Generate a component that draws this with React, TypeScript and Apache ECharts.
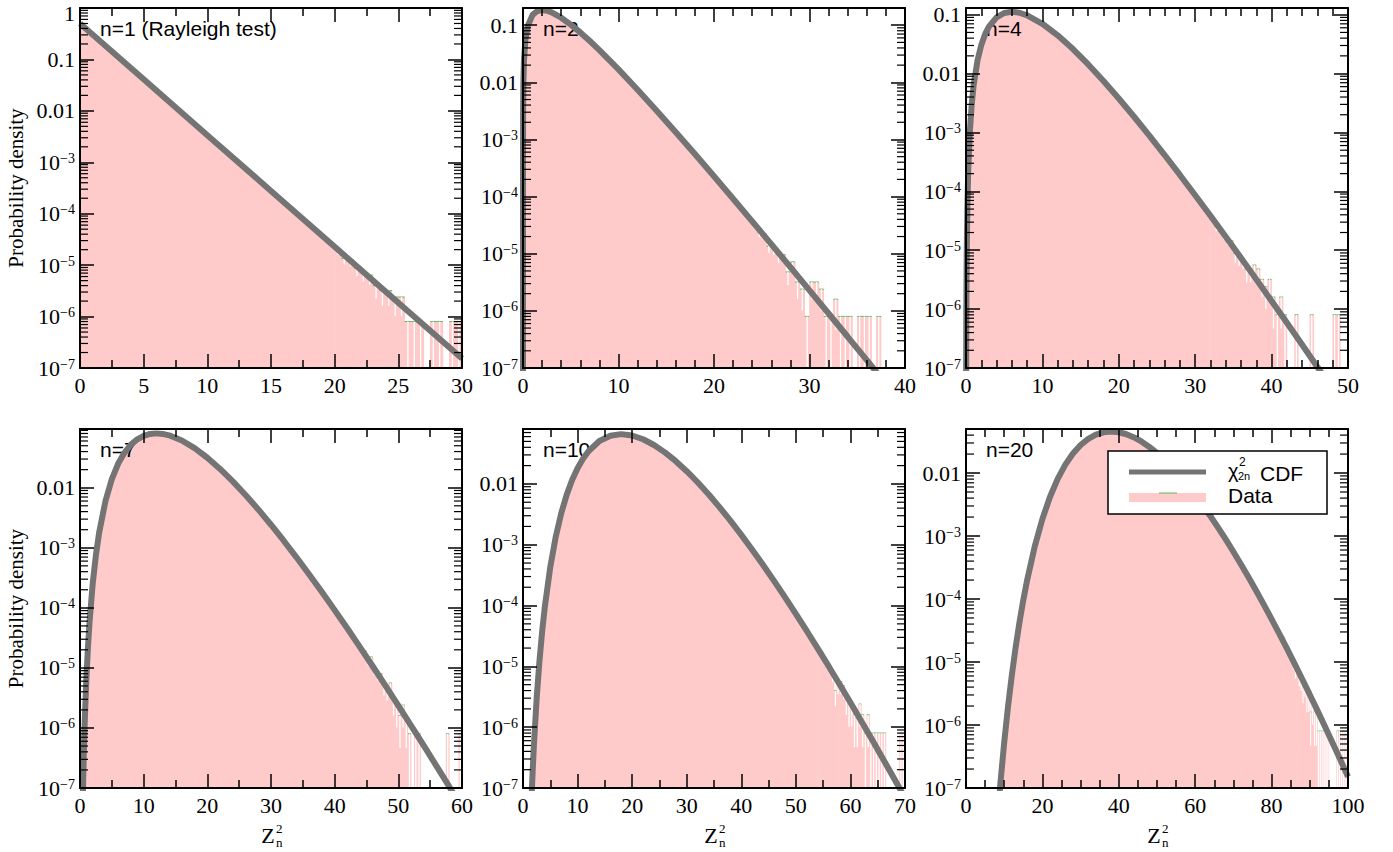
import { useEffect, useRef } from 'react';
import * as echarts from 'echarts';

const SERIF = '"Liberation Serif", "Times New Roman", Times, serif';
const SANS = '"Liberation Sans", Arial, Helvetica, sans-serif';
const PINK = '#ffcaca';
const CURVE = '#747474';
const GREEN = '#5cb85c';

// ---------- panel settings ----------
const panelLabels = ['n=1 (Rayleigh test)', 'n=2', 'n=4', 'n=7', 'n=10', 'n=20'];
const xMaxes = [30, 40, 50, 60, 70, 100];
const xSteps = [5, 10, 10, 10, 10, 20];
const xMinorSplits = [2, 5, 5, 2, 2, 4];
const yMaxes = [1, 0.2, 0.13, 0.095, 0.08, 0.05];
const Y_MIN = 1e-7;

// ---------- chi-square (2n dof) curves: [Z^2, density] ----------
const curveN1 = [[0, 0.5], [5, 0.04104], [10, 3.369e-3], [15, 2.765e-4], [20, 2.27e-5], [25, 1.863e-6], [30, 1.53e-7]];
const curveN2 = [[0, 1e-9], [0.001, 2.5e-4], [0.01, 2.49e-3], [0.04, 9.8e-3], [0.1, 0.02378], [0.25, 0.05516], [0.5, 0.09735], [1, 0.1516], [1.5, 0.1771], [2, 0.1839], [2.5, 0.1791], [3, 0.1673], [4, 0.1353], [5, 0.1026], [6, 0.0747], [7, 0.05285], [8, 0.0366], [10, 0.01684], [12, 7.436e-3], [14, 3.19e-3], [16, 1.342e-3], [18, 5.55e-4], [20, 2.27e-4], [22, 9.19e-5], [24, 3.69e-5], [26, 1.47e-5], [28, 5.82e-6], [30, 2.29e-6], [32, 9.0e-7], [34, 3.52e-7], [36, 1.37e-7], [38, 5.3e-8]];
const curveN4 = [[0.02, 8.2e-8], [0.05, 1.27e-6], [0.1, 9.9e-6], [0.2, 7.5e-5], [0.3, 2.42e-4], [0.5, 1.01e-3], [0.75, 3.02e-3], [1, 6.32e-3], [1.5, 0.0166], [2, 0.0307], [2.5, 0.04663], [3, 0.0628], [4, 0.0902], [5, 0.1069], [6, 0.112], [7, 0.1079], [8, 0.0977], [10, 0.0702], [12, 0.0446], [14, 0.0261], [16, 0.0143], [18, 7.5e-3], [20, 3.78e-3], [22, 1.85e-3], [24, 8.85e-4], [26, 4.14e-4], [28, 1.9e-4], [30, 8.6e-5], [32, 3.84e-5], [34, 1.7e-5], [36, 7.4e-6], [38, 3.2e-6], [40, 1.37e-6], [42, 5.85e-7], [44, 2.48e-7], [46, 1.04e-7], [48, 4.35e-8]];
const curveN7 = [[0.4, 3.64e-8], [0.5, 1.32e-7], [0.6, 3.75e-7], [0.75, 1.327e-6], [1, 6.58e-6], [1.25, 2.216e-5], [1.5, 5.84e-5], [2, 2.555e-4], [2.5, 7.59e-4], [3, 1.765e-3], [4, 6.01e-3], [5, 0.01392], [6, 0.02521], [7, 0.03855], [8, 0.05211], [9, 0.06407], [10, 0.07311], [11, 0.07856], [12, 0.0803], [13, 0.07872], [14, 0.0745], [16, 0.06108], [18, 0.04554], [20, 0.03153], [22, 0.02055], [24, 0.01274], [26, 7.575e-3], [28, 4.348e-3], [30, 2.42e-3], [32, 1.311e-3], [34, 6.94e-4], [36, 3.597e-4], [38, 1.83e-4], [40, 9.16e-5], [42, 4.52e-5], [44, 2.196e-5], [46, 1.055e-5], [48, 5.01e-6], [50, 2.355e-6], [52, 1.096e-6], [54, 5.06e-7], [56, 2.314e-7], [58, 1.051e-7], [60, 4.74e-8]];
const curveN10 = [[1.5, 4.9e-8], [1.75, 1.73e-7], [2, 5.07e-7], [2.5, 2.94e-6], [3, 1.18e-5], [3.5, 3.68e-5], [4, 9.54e-5], [5, 4.31e-4], [6, 1.35e-3], [7, 3.28e-3], [8, 6.61e-3], [9, 0.01158], [10, 0.01813], [11, 0.02593], [12, 0.03441], [14, 0.0507], [16, 0.062], [18, 0.0659], [20, 0.0625], [22, 0.0543], [24, 0.0437], [26, 0.033], [28, 0.02366], [30, 0.0162], [32, 0.01066], [34, 6.76e-3], [36, 4.16e-3], [38, 2.49e-3], [40, 1.454e-3], [42, 8.3e-4], [44, 4.64e-4], [46, 2.545e-4], [48, 1.373e-4], [50, 7.3e-5], [52, 3.82e-5], [54, 1.974e-5], [56, 1.007e-5], [58, 5.08e-6], [60, 2.54e-6], [62, 1.253e-6], [64, 6.14e-7], [66, 2.98e-7], [68, 1.433e-7], [70, 6.85e-8]];
const curveN20 = [[8, 2.07e-8], [9, 1.176e-7], [10, 5.28e-7], [11, 1.96e-6], [12, 6.21e-6], [13, 1.72e-5], [14, 4.27e-5], [15, 9.61e-5], [16, 1.987e-4], [18, 6.85e-4], [20, 1.866e-3], [22, 4.2e-3], [24, 8.07e-3], [26, 0.01358], [28, 0.02042], [30, 0.02787], [32, 0.03495], [34, 0.04069], [36, 0.04431], [38, 0.04553], [40, 0.0444], [42, 0.04128], [44, 0.03675], [46, 0.03147], [48, 0.02599], [50, 0.02076], [52, 0.01609], [54, 0.01213], [56, 8.9e-3], [58, 6.38e-3], [60, 4.47e-3], [62, 3.064e-3], [64, 2.061e-3], [66, 1.36e-3], [68, 8.83e-4], [70, 5.63e-4], [72, 3.54e-4], [74, 2.19e-4], [76, 1.338e-4], [78, 8.06e-5], [80, 4.8e-5], [82, 2.82e-5], [84, 1.64e-5], [86, 9.44e-6], [88, 5.37e-6], [90, 3.03e-6], [92, 1.693e-6], [94, 9.37e-7], [96, 5.14e-7], [98, 2.8e-7], [100, 1.51e-7]];

// ---------- data histogram tails: counts per 0.5-wide bin, starting at tailStart ----------
const tailStarts = [20, 24, 32, 44, 54, 82];
const BIN = 0.5;
const UNIT = 8e-7; // density of one count
const tailN1 = [25, 17, 16, 11, 9, 8, 5, 4, 4, 3, 3, 1, 1, 1, 0, 1, 1, 0, 1, 1];
const tailN2 = [40, 30, 28, 17, 16, 12, 12, 6, 9, 4, 3, 1, 4, 4, 3, 1, 1, 2, 1, 1, 1, 0, 1, 1, 1, 0, 1, 0, 0, 0, 0, 0];
const tailN4 = [45, 32, 30, 24, 20, 18, 11, 10, 9, 6, 6, 7, 6, 4, 3, 4, 2, 1, 2, 1, 0, 0, 1, 0, 0, 0, 1, 0, 0, 0, 0, 0, 1, 1, 0, 0];
const tailN7 = [26, 24, 18, 19, 13, 11, 10, 7, 6, 7, 4, 3, 2, 3, 2, 1, 0, 1, 1, 0, 0, 0, 0, 0, 0, 0, 0, 1, 0, 0, 0, 1];
const tailN10 = [24, 22, 17, 15, 13, 10, 5, 7, 7, 6, 4, 3, 3, 2, 2, 3, 2, 1, 2, 1, 1, 1, 1, 1, 1, 0, 0, 0, 0, 0, 1, 0];
const tailN20 = [34, 30, 31, 24, 20, 19, 16, 13, 10, 11, 8, 7, 5, 6, 4, 4, 2, 3, 2, 2, 1, 1, 1, 1, 0, 1, 0, 0, 0, 0, 1, 1, 0, 1, 0, 1];

const curves = [curveN1, curveN2, curveN4, curveN7, curveN10, curveN20];
const tails = [tailN1, tailN2, tailN4, tailN7, tailN10, tailN20];

// ---------- layout ----------
const colLeft = [80, 523, 966];
const rowTop = [8, 429];
const rowH = [360, 359];
const PW = 382;

const yFmt = (v: number) => {
  const l = Math.log10(v);
  const e = Math.round(l);
  if (Math.abs(l - e) > 1e-6) return '';
  if (e === 0) return '{t|1}';
  if (e === -1) return '0.1';
  if (e === -2) return '0.01';
  return `{b|10}{s|\u2212${-e}}`;
};

function buildOption() {
  const grid: any[] = [];
  const xAxis: any[] = [];
  const yAxis: any[] = [];
  const series: any[] = [];
  const elements: any[] = [];

  const axisLine = { show: true, onZero: false, lineStyle: { color: '#000', width: 2 } };
  const tickStyle = { color: '#000', width: 1.5 };

  for (let i = 0; i < 6; i++) {
    const col = i % 3;
    const row = Math.floor(i / 3);
    const left = colLeft[col];
    const top = rowTop[row];
    const height = rowH[row];
    grid.push({ left, top, width: PW, height, containLabel: false, outerBoundsMode: 'none' });

    const xCommon = {
      type: 'value', gridIndex: i, min: 0, max: xMaxes[i], interval: xSteps[i], z: 5,
      axisLine,
      axisTick: { show: true, inside: true, length: 14, lineStyle: tickStyle },
      minorTick: { show: true, splitNumber: xMinorSplits[i], length: 8, lineStyle: tickStyle },
      splitLine: { show: false },
      minorSplitLine: { show: false },
    };
    xAxis.push({ ...xCommon, position: 'bottom', axisLabel: { show: true, margin: 6, color: '#000', fontFamily: SERIF, fontSize: 22 } });
    xAxis.push({ ...xCommon, position: 'top', axisLabel: { show: false } });

    const yCommon = {
      type: 'log', logBase: 10, gridIndex: i, min: Y_MIN, max: yMaxes[i], z: 5,
      axisLine,
      axisTick: { show: true, inside: true, length: 14, lineStyle: tickStyle },
      minorTick: { show: false },
      splitLine: { show: false },
      minorSplitLine: { show: false },
    };
    yAxis.push({
      ...yCommon, position: 'left',
      axisLabel: {
        show: true, margin: 5, color: '#000', fontFamily: SERIF, fontSize: 22, lineHeight: 16,
        formatter: yFmt,
        rich: {
          b: { fontSize: 22, fontFamily: SERIF, color: '#000', lineHeight: 22 },
          s: { fontSize: 14, fontFamily: SERIF, color: '#000', lineHeight: 12, verticalAlign: 'top' },
          t: { fontSize: 22, fontFamily: SERIF, color: '#000', lineHeight: 16, padding: [10, 0, 0, 0] },
        },
      },
    });
    yAxis.push({ ...yCommon, position: 'right', axisLabel: { show: false } });

    const xi = 2 * i;
    const yi = 2 * i;
    const curve = curves[i];
    const ts = tailStarts[i];

    // data histogram: smooth body
    series.push({
      type: 'line', xAxisIndex: xi, yAxisIndex: yi, data: curve.filter((p) => p[0] <= ts),
      symbol: 'none', showSymbol: false, silent: true, z: 1,
      lineStyle: { width: 0, color: PINK },
      areaStyle: { color: PINK, opacity: 1, origin: 'start' },
    });

    // data histogram: tail bins with error bars
    const binData = tails[i]
      .map((k, j) => [ts + (j + 0.5) * BIN, k * UNIT, (k - Math.sqrt(k)) * UNIT, k])
      .filter((d) => d[3] > 0);
    series.push({
      type: 'custom', xAxisIndex: xi, yAxisIndex: yi, data: binData, silent: true, z: 1, clip: true,
      renderItem: (params: any, api: any) => {
        const c = api.value(0);
        const d = api.value(1);
        const lo = api.value(2);
        const tl = api.coord([c - BIN / 2, d]);
        const br = api.coord([c + BIN / 2, Y_MIN]);
        const low = api.coord([c, lo > Y_MIN ? lo : Y_MIN]);
        const cx = (tl[0] + br[0]) / 2;
        return {
          type: 'group',
          children: [
            { type: 'rect', shape: { x: tl[0] - 0.3, y: tl[1], width: br[0] - tl[0] + 0.6, height: br[1] - tl[1] }, style: { fill: PINK } },
            { type: 'line', shape: { x1: tl[0], y1: tl[1], x2: br[0], y2: tl[1] }, style: { stroke: GREEN, lineWidth: 1 } },
            { type: 'line', shape: { x1: cx, y1: tl[1], x2: cx, y2: low[1] }, style: { stroke: '#ffffff', lineWidth: 1.3 } },
          ],
        };
      },
    });

    // chi-square curve
    series.push({
      type: 'line', xAxisIndex: xi, yAxisIndex: yi, data: curve,
      symbol: 'none', showSymbol: false, silent: true, z: 3, clip: true,
      lineStyle: { color: CURVE, width: 6 },
    });

    // minor log ticks on left and right
    const minors: number[][] = [];
    for (let e = -7; e <= 0; e++) {
      for (let m = 2; m <= 9; m++) {
        const v = m * Math.pow(10, e);
        if (v < yMaxes[i]) minors.push([0, v]);
      }
    }
    const xm = xMaxes[i];
    series.push({
      type: 'custom', xAxisIndex: xi, yAxisIndex: yi, data: minors, silent: true, z: 6, clip: false,
      renderItem: (params: any, api: any) => {
        const v = api.value(1);
        const pl = api.coord([0, v]);
        const pr = api.coord([xm, v]);
        return {
          type: 'group',
          children: [
            { type: 'line', shape: { x1: pl[0], y1: pl[1], x2: pl[0] + 8, y2: pl[1] }, style: { stroke: '#000', lineWidth: 1.2 } },
            { type: 'line', shape: { x1: pr[0], y1: pr[1], x2: pr[0] - 8, y2: pr[1] }, style: { stroke: '#000', lineWidth: 1.2 } },
          ],
        };
      },
    });

    // panel label
    elements.push({
      type: 'text', x: left + 20, y: top + 20, z: 2,
      style: { text: panelLabels[i], fill: '#000', font: `21px ${SANS}`, textAlign: 'left', textVerticalAlign: 'middle' },
    });

    // y axis title
    if (col === 0) {
      elements.push({
        type: 'text', x: 16, y: top + height / 2, rotation: Math.PI / 2, z: 2,
        style: { text: 'Probability density', fill: '#000', font: `21px ${SERIF}`, textAlign: 'center', textVerticalAlign: 'middle' },
      });
    }
    // x axis title Z^2_n
    if (row === 1) {
      const cx = left + PW / 2;
      elements.push({ type: 'text', x: cx - 3, y: 835, z: 2, style: { text: 'Z', fill: '#000', font: `22px ${SERIF}`, lineHeight: 20, textAlign: 'center', textVerticalAlign: 'middle' } });
      elements.push({ type: 'text', x: cx + 5, y: 828, z: 2, style: { text: '2', fill: '#000', font: `13px ${SERIF}`, lineHeight: 12, textAlign: 'left', textVerticalAlign: 'middle' } });
      elements.push({ type: 'text', x: cx + 5, y: 842, z: 2, style: { text: 'n', fill: '#000', font: `13px ${SERIF}`, lineHeight: 12, textAlign: 'left', textVerticalAlign: 'middle' } });
    }
  }

  // legend
  elements.push({ type: 'rect', z: 20, shape: { x: 1108, y: 451, width: 219, height: 63 }, style: { fill: '#fff', stroke: '#000', lineWidth: 1.5 } });
  elements.push({ type: 'line', z: 21, shape: { x1: 1129, y1: 472, x2: 1206, y2: 472 }, style: { stroke: CURVE, lineWidth: 5 } });
  elements.push({ type: 'rect', z: 21, shape: { x: 1129, y: 493, width: 77, height: 9 }, style: { fill: PINK } });
  elements.push({ type: 'line', z: 22, shape: { x1: 1159, y1: 493, x2: 1177, y2: 493 }, style: { stroke: GREEN, lineWidth: 1 } });
  elements.push({ type: 'text', z: 21, x: 1228, y: 471, style: { text: '\u03C7', fill: '#000', font: `20px ${SANS}`, lineHeight: 16, textAlign: 'left', textVerticalAlign: 'middle' } });
  elements.push({ type: 'text', z: 21, x: 1239, y: 462, style: { text: '2', fill: '#000', font: `12px ${SANS}`, lineHeight: 10, textAlign: 'left', textVerticalAlign: 'middle' } });
  elements.push({ type: 'text', z: 21, x: 1238, y: 476, style: { text: '2n', fill: '#000', font: `11px ${SANS}`, lineHeight: 9, textAlign: 'left', textVerticalAlign: 'middle' } });
  elements.push({ type: 'text', z: 21, x: 1260, y: 473, style: { text: 'CDF', fill: '#000', font: `21px ${SANS}`, lineHeight: 17, textAlign: 'left', textVerticalAlign: 'middle' } });
  elements.push({ type: 'text', z: 21, x: 1228, y: 495, style: { text: 'Data', fill: '#000', font: `21px ${SANS}`, lineHeight: 17, textAlign: 'left', textVerticalAlign: 'middle' } });

  return {
    animation: false,
    backgroundColor: '#ffffff',
    grid,
    xAxis,
    yAxis,
    series,
    graphic: { elements },
  };
}

export default function App() {
  const ref = useRef<HTMLDivElement>(null);
  useEffect(() => {
    if (!ref.current) return;
    const chart = echarts.init(ref.current, null, { renderer: 'svg' });
    chart.setOption(buildOption() as any);
    return () => chart.dispose();
  }, []);
  return <div ref={ref} style={{ position: 'absolute', left: 0, top: 0, width: 1393, height: 852, background: '#fff' }} />;
}
